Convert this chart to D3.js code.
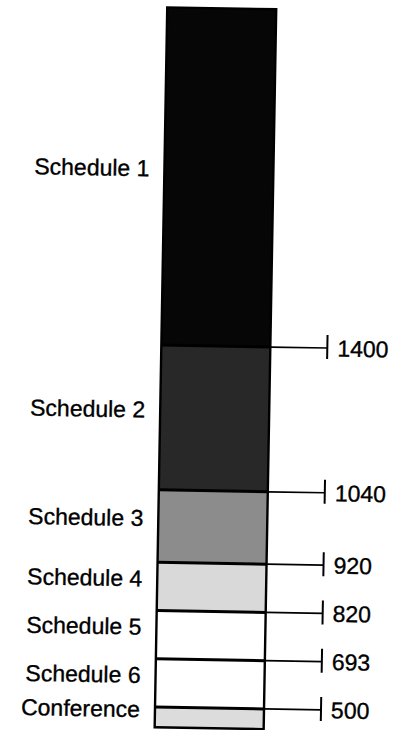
<!DOCTYPE html>
<html>
<head>
<meta charset="utf-8">
<script src="https://cdn.jsdelivr.net/npm/d3@7"></script>
<style>
  html, body { margin: 0; padding: 0; background: #fff; }
  svg { display: block; }
</style>
</head>
<body>
<svg id="chart"></svg>
<script>
// segments from top to bottom
const categories = ["Schedule 1", "Schedule 2", "Schedule 3", "Schedule 4", "Schedule 5", "Schedule 6", "Conference"];
// relative heights of each band
const bandSize = [7, 3, 1.5, 1, 1, 1, 0.42];
// threshold printed at the bottom edge of each band (none for the last one)
const thresholds = ["1400", "1040", "920", "820", "693", "500", null];
const fills = ["#060606", "#282828", "#8c8c8c", "#d9d9d9", "#ffffff", "#ffffff", "#dcdcdc"];

const width = 401, height = 730;
const svg = d3.select("#chart").attr("width", width).attr("height", height);

// scanned page is slightly tilted, keep that look
const g = svg.append("g").attr("transform", "rotate(1 200 365)");

// cumulative stacking, top band first
let acc = 0;
const bands = categories.map((c, i) => {
    const b = { name: c, y0: acc, y1: acc + bandSize[i], fill: fills[i], label: thresholds[i] };
    acc += bandSize[i];
    return b;
});

const y = d3.scaleLinear().domain([0, acc]).range([8, 728]);
const x0 = 161, x1 = 270;   // bar edges
const tickX = 327;
const font = "Liberation Sans, Arial, Helvetica, sans-serif";

// bands
g.selectAll("rect.band").data(bands).enter().append("rect")
    .attr("class", "band")
    .attr("x", x0).attr("width", x1 - x0)
    .attr("y", d => y(d.y0)).attr("height", d => y(d.y1) - y(d.y0))
    .attr("fill", d => d.fill);

// outline
g.append("rect").attr("x", x0).attr("y", y(0)).attr("width", x1 - x0).attr("height", y(acc) - y(0))
    .attr("fill", "none").attr("stroke", "#000").attr("stroke-width", 2.4);

// dividers between bands
g.selectAll("line.div").data(bands.slice(0, -1)).enter().append("line")
    .attr("class", "div")
    .attr("x1", x0).attr("x2", x1)
    .attr("y1", d => y(d.y1)).attr("y2", d => y(d.y1))
    .attr("stroke", "#000").attr("stroke-width", 3);

// leader lines + end ticks + value labels
const marked = bands.filter(d => d.label);
g.selectAll("line.lead").data(marked).enter().append("line")
    .attr("x1", x1).attr("x2", tickX)
    .attr("y1", d => y(d.y1)).attr("y2", d => y(d.y1))
    .attr("stroke", "#000").attr("stroke-width", 1.7);
g.selectAll("line.tick").data(marked).enter().append("line")
    .attr("x1", tickX).attr("x2", tickX)
    .attr("y1", d => y(d.y1) - 13).attr("y2", d => y(d.y1) + 11)
    .attr("stroke", "#000").attr("stroke-width", 2);
g.selectAll("text.val").data(marked).enter().append("text")
    .attr("x", tickX + 10).attr("y", d => y(d.y1))
    .attr("dy", "0.36em")
    .attr("font-family", font).attr("font-size", 23)
    .attr("fill", "#000").attr("stroke", "#000").attr("stroke-width", 0.35)
    .text(d => d.label);

// category names, left of the bar
g.selectAll("text.cat").data(bands).enter().append("text")
    .attr("x", 146)
    .attr("y", d => (y(d.y0) + y(d.y1)) / 2 - 8)
    .attr("dy", "0.36em")
    .attr("text-anchor", "end")
    .attr("font-family", font).attr("font-size", 23)
    .attr("fill", "#000").attr("stroke", "#000").attr("stroke-width", 0.35)
    .text(d => d.name);
</script>
</body>
</html>
